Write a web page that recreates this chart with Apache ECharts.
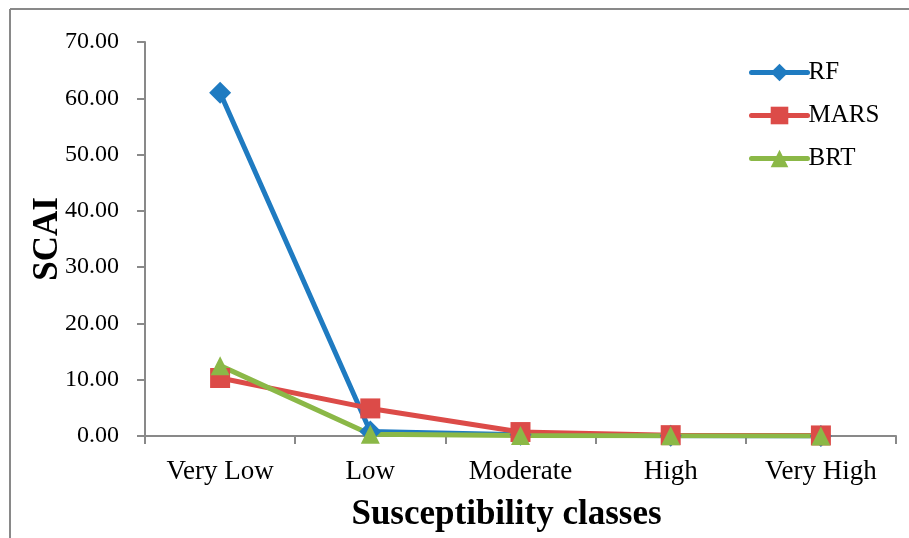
<!DOCTYPE html>
<html><head><meta charset="utf-8">
<script src="https://cdn.jsdelivr.net/npm/echarts@6/dist/echarts.min.js"></script>
<style>html,body{margin:0;padding:0;background:#fff}#c{width:909px;height:538px}</style>
</head><body><div id="c"></div>
<script>
const categories = ['Very Low', 'Low', 'Moderate', 'High', 'Very High'];
const rf = [61.0, 0.8, 0.2, 0.05, 0.02];
const mars = [10.3, 4.9, 0.7, 0.15, 0.1];
const brt = [12.5, 0.3, 0.1, 0.05, 0.02];
const yTicks = [0, 10, 20, 30, 40, 50, 60, 70];

const FONT = '"Liberation Serif", "DejaVu Serif", serif';
const colors = ['#1F7BC1', '#DC4B48', '#8BB847'];
const chart = echarts.init(document.getElementById('c'), null, {renderer: 'canvas'});
function ser(name, data, sym, size, color) {
  return {
    name, type: 'line', data, symbol: sym, symbolSize: size,
    lineStyle: {width: 5, color}, itemStyle: {color},
    emphasis: {disabled: true}, animation: false
  };
}
chart.setOption({
  animation: false,
  textStyle: {fontFamily: FONT},
  graphic: [
    {type: 'line', shape: {x1: 10, y1: 9, x2: 909, y2: 9}, style: {stroke: '#898989', lineWidth: 2}},
    {type: 'line', shape: {x1: 10, y1: 9, x2: 10, y2: 538}, style: {stroke: '#898989', lineWidth: 2}}
  ],
  grid: {left: 145, right: 13, top: 42, bottom: 102, containLabel: false, outerBoundsMode: 'none'},
  legend: {
    orient: 'vertical', left: 744, top: 55, itemGap: 18, itemWidth: 56, itemHeight: 22,
    lineStyle: {width: 5, cap: 'round'},
    textStyle: {fontFamily: FONT, fontSize: 25, color: '#000', padding: [0, 0, 0, -4]},
    data: ['RF', 'MARS', 'BRT']
  },
  xAxis: {
    type: 'category', data: categories, boundaryGap: true,
    name: 'Susceptibility classes', nameLocation: 'middle', nameGap: 61, nameMoveOverlap: false,
    nameTextStyle: {fontFamily: FONT, fontSize: 35, fontWeight: 'bold', color: '#000', padding: [0, 28, 0, 0]},
    axisLine: {lineStyle: {color: '#898989', width: 2}},
    axisTick: {show: true, inside: false, length: 8, alignWithLabel: false, lineStyle: {color: '#898989', width: 2}},
    axisLabel: {fontFamily: FONT, fontSize: 27, color: '#000', margin: 22},
    splitLine: {show: false}
  },
  yAxis: {
    type: 'value', min: 0, max: 70, interval: 10,
    name: 'SCAI', nameLocation: 'middle', nameGap: 80, nameRotate: 90, nameMoveOverlap: false,
    nameTextStyle: {fontFamily: FONT, fontSize: 35, fontWeight: 'bold', color: '#000'},
    axisLine: {show: true, lineStyle: {color: '#898989', width: 2}},
    axisTick: {show: true, inside: false, length: 8, lineStyle: {color: '#898989', width: 2}},
    axisLabel: {fontFamily: FONT, fontSize: 24, color: '#000', margin: 26,
      formatter: v => yTicks.includes(v) ? v.toFixed(2) : ''},
    splitLine: {show: false}
  },
  series: [
    ser('RF', rf, 'diamond', 22, colors[0]),
    ser('MARS', mars, 'rect', 20, colors[1]),
    ser('BRT', brt, 'triangle', 19, colors[2])
  ]
});
</script></body></html>
